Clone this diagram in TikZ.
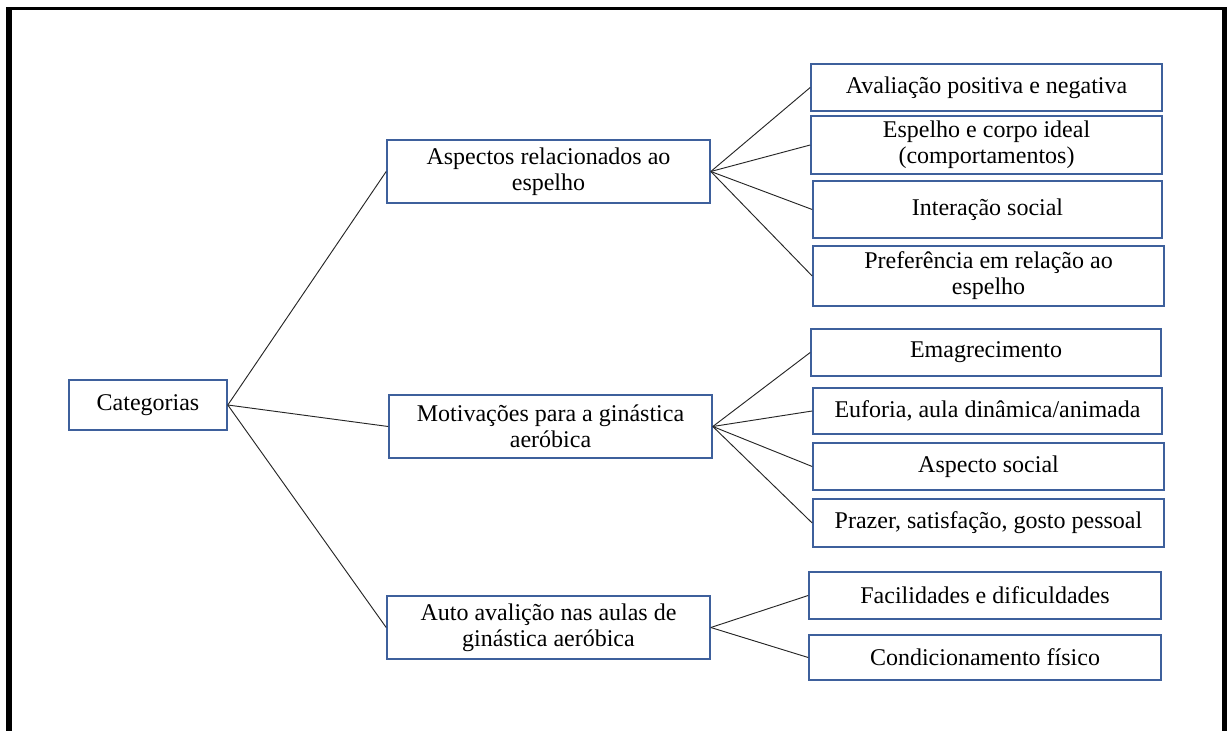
\documentclass[tikz,border=0pt]{standalone}
\usepackage{fontspec}
\setmainfont{Liberation Serif}
\definecolor{boxblue}{RGB}{62,96,156}
\begin{document}
\begin{tikzpicture}[x=0.75pt,y=-0.75pt,
  box/.style={draw=boxblue, line width=1.2pt, fill=white, inner sep=0pt, align=center, font=\fontsize{18}{19.5}\selectfont},
  link/.style={draw=black!85, line width=0.7pt}]
\useasboundingbox (0,0) rectangle (1227,731);
% frame
\fill[black] (6,7) rectangle (1227,10);
\fill[black] (6,7) rectangle (12,731);
\fill[black] (1222,7) rectangle (1227,731);
% nodes
\node[box, minimum width=118.5pt, minimum height=37.5pt] (cat) at (148,405) {Categorias};
\node[box, minimum width=242.25pt, minimum height=47.25pt] (asp) at (548.5,171.5) {Aspectos relacionados ao\\espelho};
\node[box, minimum width=242.25pt, minimum height=47.25pt] (mot) at (550.5,426.5) {Motivações para a ginástica\\aeróbica};
\node[box, minimum width=242.25pt, minimum height=47.25pt] (aut) at (548.5,627.5) {Auto avalição nas aulas de\\ginástica aeróbica};
\node[box, minimum width=263.25pt, minimum height=35.25pt] (a1) at (986.5,87.5) {Avaliação positiva e negativa};
\node[box, minimum width=263.25pt, minimum height=43.5pt] (a2) at (986.5,145) {Espelho e corpo ideal\\(comportamentos)};
\node[box, minimum width=261.75pt, minimum height=42.75pt] (a3) at (987.5,209.5) {Interação social};
\node[box, minimum width=263.25pt, minimum height=45pt] (a4) at (988.5,276) {Preferência em relação ao\\espelho};
\node[box, minimum width=262.5pt, minimum height=35.25pt] (m1) at (986,352.5) {Emagrecimento};
\node[box, minimum width=261.75pt, minimum height=34.5pt] (m2) at (987.5,411) {Euforia, aula dinâmica/animada};
\node[box, minimum width=263.25pt, minimum height=35.25pt] (m3) at (988.5,466.5) {Aspecto social};
\node[box, minimum width=263.25pt, minimum height=36pt] (m4) at (988.5,523) {Prazer, satisfação, gosto pessoal};
\node[box, minimum width=264pt, minimum height=35.25pt] (f1) at (985,595.5) {Facilidades e dificuldades};
\node[box, minimum width=264pt, minimum height=33.75pt] (f2) at (985,657.5) {Condicionamento físico};
% connectors
\draw[link] (cat.east) -- (asp.west);
\draw[link] (cat.east) -- (mot.west);
\draw[link] (cat.east) -- (aut.west);
\foreach \c in {a1,a2,a3,a4} \draw[link] (asp.east) -- (\c.west);
\foreach \c in {m1,m2,m3,m4} \draw[link] (mot.east) -- (\c.west);
\foreach \c in {f1,f2} \draw[link] (aut.east) -- (\c.west);
\end{tikzpicture}
\end{document}
